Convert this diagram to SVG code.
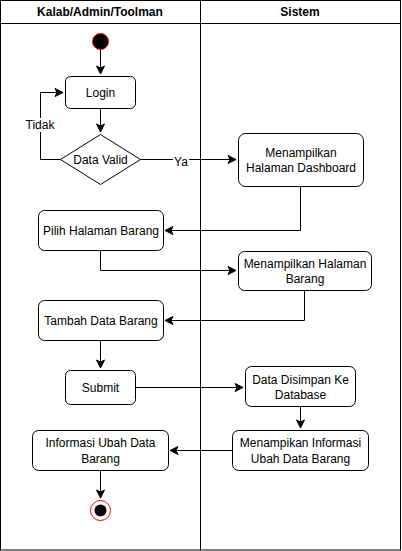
<svg xmlns="http://www.w3.org/2000/svg" width="402" height="551" viewBox="0 0 402 551">
<style>
text{font-family:"Liberation Sans",Arial,sans-serif;font-size:12px;fill:#000;text-anchor:middle;dominant-baseline:central}
.h{font-weight:bold}
.box{fill:#fff;stroke:#000;stroke-width:1}
.c{fill:none;stroke:#000;stroke-width:1}
</style>
<defs>
<marker id="a" markerUnits="userSpaceOnUse" markerWidth="10" markerHeight="10" viewBox="0 0 10 10" refX="9" refY="5" orient="auto">
<path d="M1,1 L9,5 L1,9 L3,5 z" fill="#000" stroke="#000" stroke-width="1"/>
</marker>
</defs>
<rect width="402" height="551" fill="#fff"/>
<g id="pool">
<rect x="0.5" y="0.5" width="400" height="549.5" fill="none" stroke="#000"/>
<line x1="0.5" y1="23.5" x2="400.5" y2="23.5" stroke="#000"/>
<line x1="200.5" y1="0.5" x2="200.5" y2="550" stroke="#000"/>
<text class="h" x="100" y="12">Kalab/Admin/Toolman</text>
<text class="h" x="300" y="12">Sistem</text>
</g>
<g id="connectors">
<path class="c" d="M100.5,50 V74" marker-end="url(#a)"/>
<path class="c" d="M100.5,109 V132" marker-end="url(#a)"/>
<path class="c" d="M60,159.5 H40.5 V92.5 H63" marker-end="url(#a)"/>
<rect x="24" y="118" width="32" height="14" fill="#fff"/>
<text x="40" y="125">Tidak</text>
<path class="c" d="M140,159.5 H236" marker-end="url(#a)"/>
<rect x="173" y="155" width="16" height="14" fill="#fff"/>
<text x="181" y="162">Ya</text>
<path class="c" d="M300.5,186 V230.5 H165" marker-end="url(#a)"/>
<path class="c" d="M100.5,251 V270.5 H236" marker-end="url(#a)"/>
<path class="c" d="M304.5,291 V320.5 H165" marker-end="url(#a)"/>
<path class="c" d="M100.5,340 V368" marker-end="url(#a)"/>
<path class="c" d="M135,387.5 H243" marker-end="url(#a)"/>
<path class="c" d="M300.5,406 V428" marker-end="url(#a)"/>
<path class="c" d="M232,450.5 H170" marker-end="url(#a)"/>
<path class="c" d="M100.5,470 V498" marker-end="url(#a)"/>
</g>
<g id="start"><circle cx="100.5" cy="41.5" r="8" fill="#000" stroke="#f00" stroke-width="1"/></g>
<g id="login"><rect class="box" x="65.5" y="76.5" width="70" height="32" rx="5"/><text x="100.5" y="93">Login</text></g>
<g id="valid"><path class="box" d="M100.5,134.5 L140.5,159.5 L100.5,184.5 L60.5,159.5 Z"/><text x="100.5" y="160">Data Valid</text></g>
<g id="dashboard"><rect class="box" x="238.5" y="133.5" width="125" height="53" rx="7"/><text x="301" y="153">Menampilkan</text><text x="301" y="168">Halaman Dashboard</text></g>
<g id="pilih"><rect class="box" x="38.5" y="210.5" width="125" height="40" rx="6"/><text x="101" y="231">Pilih Halaman Barang</text></g>
<g id="tampilBarang"><rect class="box" x="238.5" y="251.5" width="133" height="39" rx="6"/><text x="305" y="264">Menampilkan Halaman</text><text x="305" y="279">Barang</text></g>
<g id="tambah"><rect class="box" x="38.5" y="300.5" width="125" height="40" rx="6"/><text x="101" y="321">Tambah Data Barang</text></g>
<g id="submit"><rect class="box" x="65.5" y="370.5" width="70" height="34" rx="5"/><text x="100.5" y="388">Submit</text></g>
<g id="simpan"><rect class="box" x="245.5" y="366.5" width="110" height="40" rx="6"/><text x="300.5" y="380">Data Disimpan Ke</text><text x="300.5" y="395">Database</text></g>
<g id="infoSistem"><rect class="box" x="232.5" y="430.5" width="136" height="40" rx="6"/><text x="300.5" y="443">Menampikan Informasi</text><text x="300.5" y="459">Ubah Data Barang</text></g>
<g id="infoUser"><rect class="box" x="32.5" y="430.5" width="136" height="40" rx="6"/><text x="100.5" y="443">Informasi Ubah Data</text><text x="100.5" y="459">Barang</text></g>
<g id="end"><circle cx="100.5" cy="510.5" r="10" fill="#fff" stroke="#f00" stroke-width="1"/><circle cx="100.5" cy="510.5" r="6" fill="#000"/></g>
</svg>
